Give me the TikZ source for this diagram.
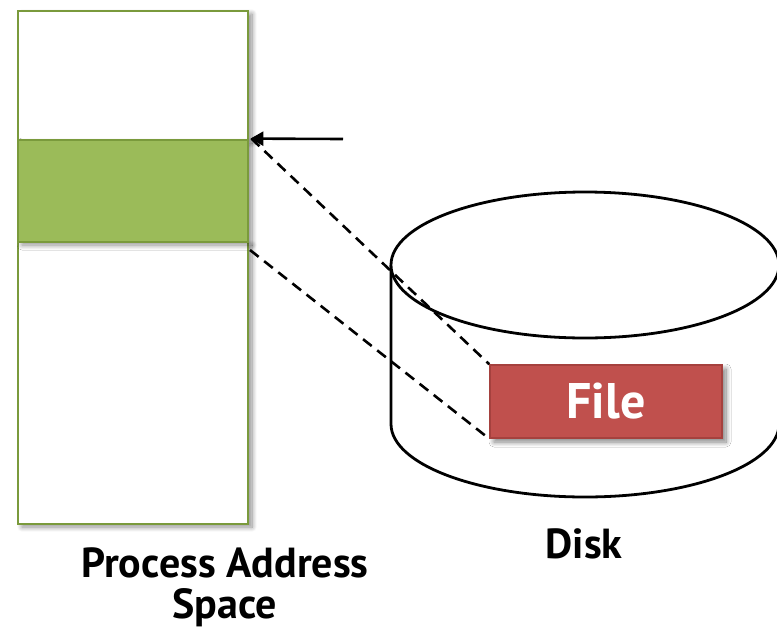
\documentclass[tikz,border=0pt]{standalone}
\usepackage{fontspec}
\setmainfont{PT Sans}
\usetikzlibrary{shadows.blur,arrows.meta}
\definecolor{segfill}{HTML}{9BBB59}
\definecolor{segline}{HTML}{7A9A3C}
\definecolor{filefill}{HTML}{C0504D}
\definecolor{fileline}{HTML}{A5413E}
\tikzset{
  memcell/.style={draw=segline, line width=2.8pt, fill=white, minimum width=230pt, inner sep=0pt,
    blur shadow={shadow xshift=4pt, shadow yshift=-3pt, shadow blur radius=5pt, shadow blur steps=10, shadow opacity=45}},
  segment/.style={memcell, fill=segfill},
  filebox/.style={draw=fileline, line width=1.5pt, fill=filefill, minimum width=232pt, minimum height=73pt,
    inner sep=0pt, text=white, font=\bfseries\fontsize{50}{56}\selectfont,
    blur shadow={shadow xshift=4pt, shadow yshift=-4pt, shadow blur radius=5pt, shadow blur steps=10, shadow opacity=50}},
  mapline/.style={dash pattern=on 11pt off 7pt, line width=2.6pt},
  caption/.style={font=\bfseries\fontsize{42}{44}\selectfont, align=center},
  disk/.style={line width=2.8pt, fill=white}
}
\begin{document}
\begin{tikzpicture}[x=1pt, y=-1pt]
  \useasboundingbox (0,0) rectangle (777,630);

  % process address space: three stacked regions
  \node[memcell, minimum height=129pt] (top) at (133,75.5) {};
  \node[memcell, minimum height=282pt] (bottom) at (133,383) {};
  \node[segment, minimum height=102pt] (seg) at (133,191) {};

  % disk drawn as a cylinder
  \begin{scope}
    \clip (0,0) rectangle (777,630);
    \path[disk] (391,265) -- (391,424) arc[start angle=180, end angle=360, x radius=194pt, y radius=73pt]
      -- (779,265) -- cycle;
    \draw[line width=2.8pt] (391,265) -- (391,424) arc[start angle=180, end angle=360, x radius=194pt, y radius=73pt]
      -- (779,265);
    \draw[disk] (585,265) ellipse[x radius=194pt, y radius=73pt];
  \end{scope}

  % mapped file on the disk
  \node[filebox] (file) at (606,401.5) {File};

  % mapping between file and segment
  \coordinate (segbot) at (250,250);
  \coordinate (ptr) at (343,139);
  \draw[mapline] (seg.north east) ++(2,0) -- (file.north west);
  \draw[mapline] (segbot) -- (file.south west);
  \draw[-{Triangle[length=13pt,width=14pt]}, line width=2.6pt] (ptr) -- ([xshift=1pt]seg.north east);

  % captions
  \node[caption, anchor=base] (pas) at (225,577) {Process Address};
  \node[caption, anchor=base] (pas2) at (225,618) {Space};
  \node[caption, anchor=base] (disklbl) at (584,558) {Disk};
\end{tikzpicture}
\end{document}
